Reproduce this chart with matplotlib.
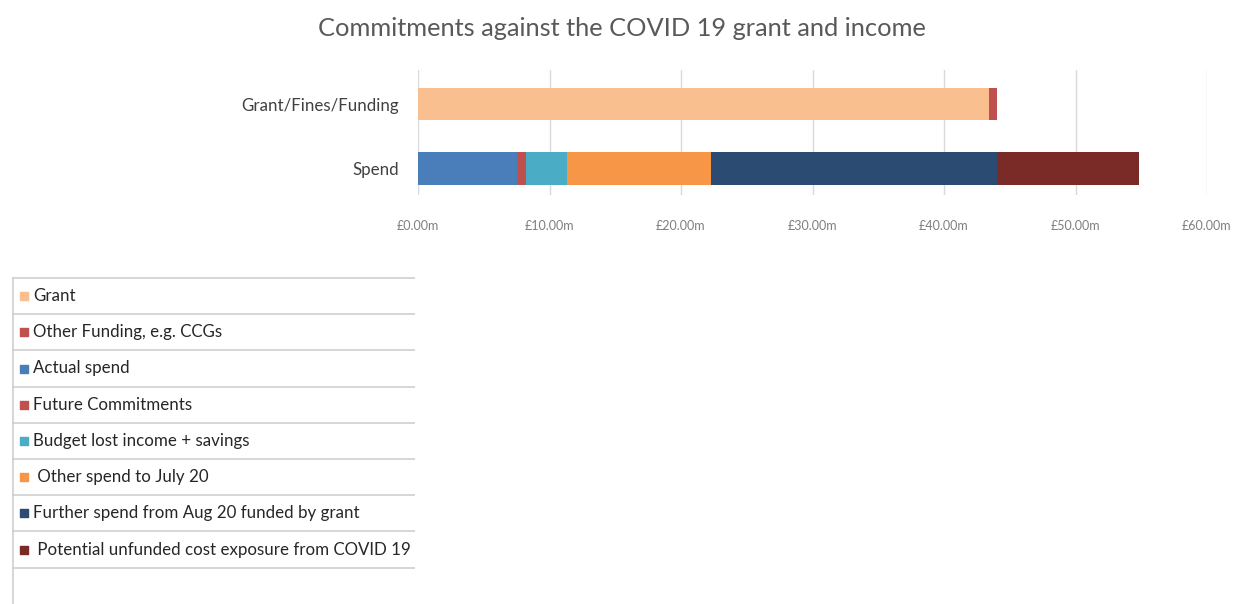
import matplotlib.pyplot as plt
import numpy as np

plt.rcParams['font.family'] = ['Lato', 'DejaVu Sans']

# data (GBP millions)
categories = ['Spend', 'Grant/Fines/Funding']
series_names = ['Grant', 'Other Funding, e.g. CCGs', 'Actual spend', 'Future Commitments',
                'Budget lost income + savings', 'Other spend to July 20',
                'Further spend from Aug 20 funded by grant',
                'Potential unfunded cost exposure from COVID 19']
legend_labels = ['Grant', 'Other Funding, e.g. CCGs', 'Actual spend', 'Future Commitments',
                 'Budget lost income + savings', ' Other spend to July 20',
                 'Further spend from Aug 20 funded by grant',
                 ' Potential unfunded cost exposure from COVID 19']
# values per series: [Spend, Grant/Fines/Funding]
grant = [0, 43.4]
other_funding = [0, 0.6]
actual_spend = [7.5, 0]
future_commit = [0.7, 0]
budget_lost = [3.1, 0]
other_spend = [11.0, 0]
further_spend = [21.7, 0]
unfunded = [10.8, 0]
series_values = [grant, other_funding, actual_spend, future_commit,
                 budget_lost, other_spend, further_spend, unfunded]
colors = ['#F9BF8F', '#C0504D', '#4A7EBB', '#C0504D', '#4BACC6',
          '#F79646', '#2B4B72', '#7A2A27']
xticks = [0, 10, 20, 30, 40, 50, 60]
xtick_labels = ['£0.00m', '£10.00m', '£20.00m', '£30.00m', '£40.00m', '£50.00m', '£60.00m']

W, H = 1238, 604
fig = plt.figure(figsize=(W / 100, H / 100), dpi=100)

fig.text(622 / W, 1 - 29 / H, 'Commitments against the COVID 19 grant and income',
         ha='center', va='center', fontsize=18.3, color='#595959')

ax = fig.add_axes([418 / W, 1 - 195 / H, (1207 - 418) / W, 125 / H])
y = np.arange(len(categories))
left = np.zeros(len(categories))
for vals, c in zip(series_values, colors):
    ax.barh(y, vals, left=left, height=0.51, color=c, zorder=3)
    left += np.array(vals)

ax.set_xlim(0, 60)
ax.set_ylim(-0.41, 1.527)
ax.set_xticks(xticks)
ax.set_xticklabels(xtick_labels, fontsize=9, color='#7f7f7f')
ax.set_yticks(y)
ax.set_yticklabels(categories, fontsize=12.2, color='#404040')
ax.tick_params(axis='x', length=0, pad=18)
ax.tick_params(axis='y', length=0, pad=14)
ax.grid(axis='x', color='#d9d9d9', linewidth=1, zorder=0)
for s in ax.spines.values():
    s.set_visible(False)

# legend drawn as a table-like box
lax = fig.add_axes([12 / W, 0, (415 - 12) / W, (604 - 277) / H])
lax.set_xlim(0, 403)
lax.set_ylim(327, 0)
lax.axis('off')
row_h = 36.2
for i in range(len(series_names) + 1):
    lax.axhline(i * row_h + 1, color='#d0d0d0', linewidth=1.2)
lax.axvline(1, color='#d0d0d0', linewidth=1.2)
for i, (lab, c) in enumerate(zip(legend_labels, colors)):
    yc = i * row_h + row_h / 2 + 1
    lax.scatter([12], [yc], marker='s', s=34, color=c)
    lax.text(21, yc, lab, fontsize=12.2, color='#262626', va='center', ha='left')

fig.savefig('out.png', dpi=100)
